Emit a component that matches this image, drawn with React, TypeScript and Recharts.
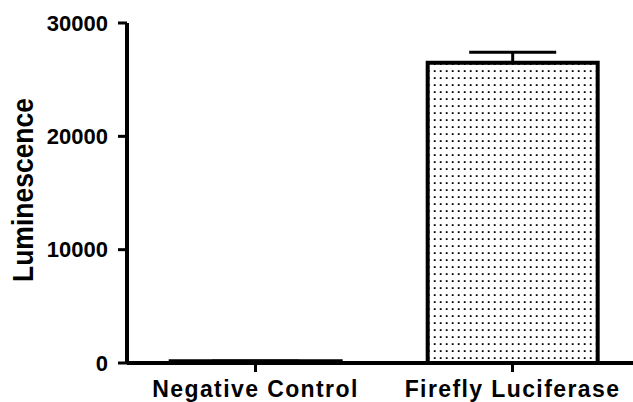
import React from 'react';
import { BarChart, Bar, XAxis, YAxis, ErrorBar, Label } from 'recharts';

const categories = ['Negative Control', 'Firefly Luciferase'];
const means = [150, 26500];
const errUpper = [0, 925];
const yTicks = [0, 10000, 20000, 30000];

const data = categories.map((name, i) => ({
  name,
  value: means[i],
  err: [0, errUpper[i]],
}));

const FONT = '"Liberation Sans", Arial, Helvetica, sans-serif';

const YTitle = ({ viewBox }: any) => {
  const cy = viewBox ? viewBox.y + viewBox.height / 2 - 3 : 190;
  return (
    <text
      transform={`translate(33, ${cy}) rotate(-90) scale(1, 1.1)`}
      textAnchor="middle"
      fontSize={26.5}
      fontWeight="bold"
      fill="#000"
      fontFamily={FONT}
    >
      Luminescence
    </text>
  );
};

const App: React.FC = () => {
  return (
    <div
      style={{
        position: 'absolute',
        left: 0,
        top: 0,
        width: 633,
        height: 402,
        overflow: 'hidden',
        background: '#fff',
        fontFamily: FONT,
      }}
    >
      <BarChart
        width={641}
        height={402}
        data={data}
        margin={{ top: 23, right: 0, bottom: 0, left: 0 }}
        barCategoryGap="17%"
      >
        <defs>
          <pattern id="dots" x="0" y="0" width="6" height="7" patternUnits="userSpaceOnUse">
            <rect x="0" y="0" width="6" height="7" fill="#fff" />
            <rect x="1.8" y="0.2" width="1.8" height="1.8" fill="#000" />
          </pattern>
        </defs>
        <XAxis
          dataKey="name"
          height={39}
          axisLine={{ stroke: '#000', strokeWidth: 4 }}
          tickLine={{ stroke: '#000', strokeWidth: 3 }}
          tickSize={9}
          tickMargin={9}
          tick={{ fill: '#000', fontSize: 23, fontWeight: 'bold', letterSpacing: 1.4 }}
          interval={0}
        />
        <YAxis
          width={127}
          domain={[0, 30000]}
          ticks={yTicks}
          axisLine={{ stroke: '#000', strokeWidth: 4 }}
          tickLine={{ stroke: '#000', strokeWidth: 3 }}
          tickSize={9}
          tickMargin={10}
          tick={{ fill: '#000', fontSize: 22, fontWeight: 'bold' }}
          interval={0}
        >
          <Label content={<YTitle />} />
        </YAxis>
        <Bar
          dataKey="value"
          fill="url(#dots)"
          stroke="#000"
          strokeWidth={4}
          isAnimationActive={false}
        >
          <ErrorBar dataKey="err" width={43.5} stroke="#000" strokeWidth={3} direction="y" />
        </Bar>
      </BarChart>
    </div>
  );
};

export default App;
